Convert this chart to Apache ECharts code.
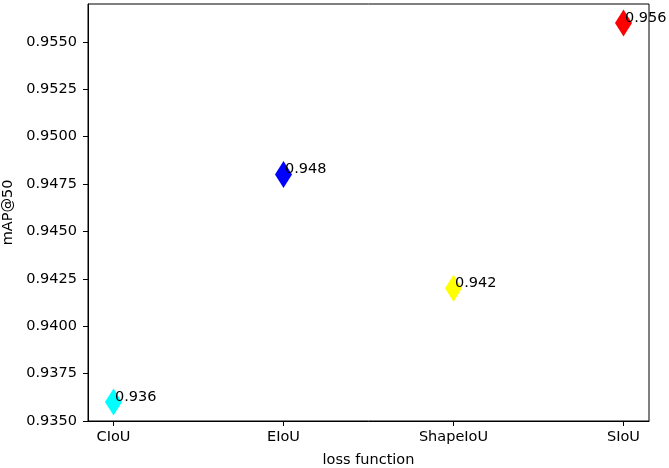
<!DOCTYPE html>
<html>
<head>
<meta charset="utf-8">
<script src="https://cdn.jsdelivr.net/npm/echarts@6/dist/echarts.min.js"></script>
<style>
  html, body { margin: 0; padding: 0; background: #fff; }
  #chart { width: 669px; height: 468px; }
</style>
</head>
<body>
<div id="chart"></div>
<script>
// data
var categories = ['CIoU', 'EIoU', 'ShapeIoU', 'SIoU'];
var mapValues = [0.936, 0.948, 0.942, 0.956];
var pointColors = ['#00ffff', '#0000ff', '#ffff00', '#ff0000'];
var yTicks = [0.935, 0.9375, 0.94, 0.9425, 0.945, 0.9475, 0.95, 0.9525, 0.955];

var font = 'DejaVu Sans';
var myChart = echarts.init(document.getElementById('chart'));

var points = categories.map(function (name, i) {
  return {
    value: [i, mapValues[i]],
    itemStyle: { color: pointColors[i], opacity: 1 },
    label: { formatter: String(mapValues[i]) }
  };
});

var option = {
  animation: false,
  grid: {
    left: 88, right: 20, top: 4, bottom: 47,
    outerBoundsMode: 'none',
    containLabel: false,
    show: true, borderColor: '#000', borderWidth: 1, backgroundColor: '#fff'
  },
  xAxis: {
    type: 'value',
    min: -0.15,
    max: 3.15,
    name: 'loss function',
    nameLocation: 'middle',
    nameGap: 32,
    nameTextStyle: { color: '#000', fontFamily: font, fontSize: 14.5 },
    splitLine: { show: false },
    axisLine: { show: true, onZero: false, lineStyle: { color: '#000', width: 1 } },
    axisTick: { show: true, length: 5, lineStyle: { color: '#000' }, customValues: [0, 1, 2, 3] },
    axisLabel: {
      customValues: [0, 1, 2, 3],
      margin: 9,
      color: '#000', fontFamily: font, fontSize: 14.5,
      formatter: function (v) { return categories[Math.round(v)]; }
    }
  },
  yAxis: {
    type: 'value',
    min: 0.935,
    max: 0.957,
    name: 'mAP@50',
    nameLocation: 'middle',
    nameGap: 70,
    nameTextStyle: { color: '#000', fontFamily: font, fontSize: 14.5 },
    splitLine: { show: false },
    axisLine: { show: true, onZero: false, lineStyle: { color: '#000', width: 1 } },
    axisTick: { show: true, length: 5, lineStyle: { color: '#000' }, customValues: yTicks },
    axisLabel: {
      customValues: yTicks,
      margin: 11,
      color: '#000', fontFamily: font, fontSize: 14.5,
      formatter: function (v) { return v.toFixed(4); }
    }
  },
  series: [{
    type: 'scatter',
    symbol: 'diamond',
    symbolSize: [17, 27],
    clip: false,
    data: points,
    emphasis: { disabled: true },
    label: {
      show: true,
      position: [10, 16],
      align: 'left',
      verticalAlign: 'bottom',
      color: '#000',
      fontFamily: font,
      fontSize: 14.5
    }
  }]
};

myChart.setOption(option);
window.addEventListener('resize', function () {
  myChart.resize();
});
</script>
</body>
</html>
